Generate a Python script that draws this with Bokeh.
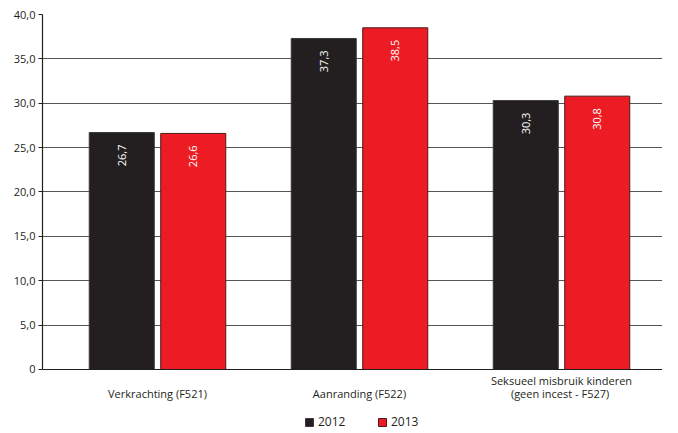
from bokeh.plotting import figure
from bokeh.models import ColumnDataSource, Range1d, FixedTicker, Legend, LegendItem, Span
from bokeh.core.properties import value
from bokeh.embed import file_html
from bokeh.resources import INLINE

categories = ["Verkrachting (F521)", "Aanranding (F522)", "Seksueel misbruik kinderen\n(geen incest  - F527)"]
years = ["2012", "2013"]
vals_2012 = [26.7, 37.3, 30.3]
vals_2013 = [26.6, 38.5, 30.8]
y_ticks = [0, 5, 10, 15, 20, 25, 30, 35, 40]
y_tick_labels = ["0", "5,0", "10,0", "15,0", "20,0", "25,0", "30,0", "35,0", "40,0"]

FONT = "Open Sans"
BLACK = "#231f20"
RED = "#ed1c24"

xpos = [i + 1 for i in range(len(categories))]
off = 0.177
bw = 0.322

src12 = ColumnDataSource(dict(x=[x - off for x in xpos], top=vals_2012,
                              lab=[f"{v:.1f}".replace(".", ",") for v in vals_2012]))
src13 = ColumnDataSource(dict(x=[x + off for x in xpos], top=vals_2013,
                              lab=[f"{v:.1f}".replace(".", ",") for v in vals_2013]))

# category labels: single-line labels sit on the second line
line1 = [c.split("\n")[0] if "\n" in c else "" for c in categories]
line2 = [c.split("\n")[1] if "\n" in c else c for c in categories]
srccat = ColumnDataSource(dict(x=xpos, y=[0] * len(xpos), l1=line1, l2=line2))

p = figure(frame_width=620, frame_height=417, output_backend="svg", toolbar_location=None,
           x_range=Range1d(0.4307, 3.5), y_range=Range1d(-6.986, 40),
           x_axis_location=None,
           min_border_left=42, min_border_right=0, min_border_top=14, min_border_bottom=0)
p.outline_line_color = None
p.background_fill_color = "white"

r12 = p.vbar(x="x", top="top", width=bw, source=src12, fill_color=BLACK, line_color="#3a3a3a", line_width=1)
r13 = p.vbar(x="x", top="top", width=bw, source=src13, fill_color=RED, line_color="#4a1a1a", line_width=1)

for src in (src12, src13):
    p.text(x="x", y="top", text="lab", source=src, angle=1.5708, text_align="right",
           text_baseline="middle", x_offset=0, y_offset=12, text_color="white",
           text_font=value(FONT), text_font_size="11px")

p.text(x="x", y="y", text="l1", source=srccat, text_align="center", text_baseline="middle",
       y_offset=11, text_color=BLACK, text_font=value(FONT), text_font_size="11px")
p.text(x="x", y="y", text="l2", source=srccat, text_align="center", text_baseline="middle",
       y_offset=24, text_color=BLACK, text_font=value(FONT), text_font_size="11px")

# grid
p.xgrid.grid_line_color = None
p.ygrid.ticker = FixedTicker(ticks=y_ticks[1:])
p.ygrid.grid_line_color = "#555555"
p.ygrid.grid_line_width = 1.2

# baseline (x axis line)
p.add_layout(Span(location=0, dimension="width", line_color=BLACK, line_width=1.2))

# y axis
p.yaxis.ticker = FixedTicker(ticks=y_ticks)
p.yaxis.bounds = (0, 40)
p.yaxis.major_label_overrides = {t: l for t, l in zip(y_ticks, y_tick_labels)}
p.yaxis.axis_line_color = BLACK
p.yaxis.axis_line_width = 1.2
p.yaxis.major_tick_line_color = BLACK
p.yaxis.major_tick_in = 0
p.yaxis.major_tick_out = 4
p.yaxis.minor_tick_line_color = None
p.yaxis.major_label_text_font = FONT
p.yaxis.major_label_text_font_size = "11px"
p.yaxis.major_label_text_color = BLACK
p.yaxis.major_label_standoff = 3

legend = Legend(items=[LegendItem(label=years[0], renderers=[r12]),
                       LegendItem(label=years[1], renderers=[r13])],
                orientation="horizontal", location=(262, 1),
                glyph_width=10, glyph_height=10, label_standoff=4, label_width=40,
                spacing=19, padding=0, margin=0, label_height=12,
                label_text_font=FONT, label_text_font_size="12px", label_text_color=BLACK,
                border_line_color=None, background_fill_alpha=0)
p.add_layout(legend, "center")

open("out.html", "w").write(file_html(p, INLINE))
